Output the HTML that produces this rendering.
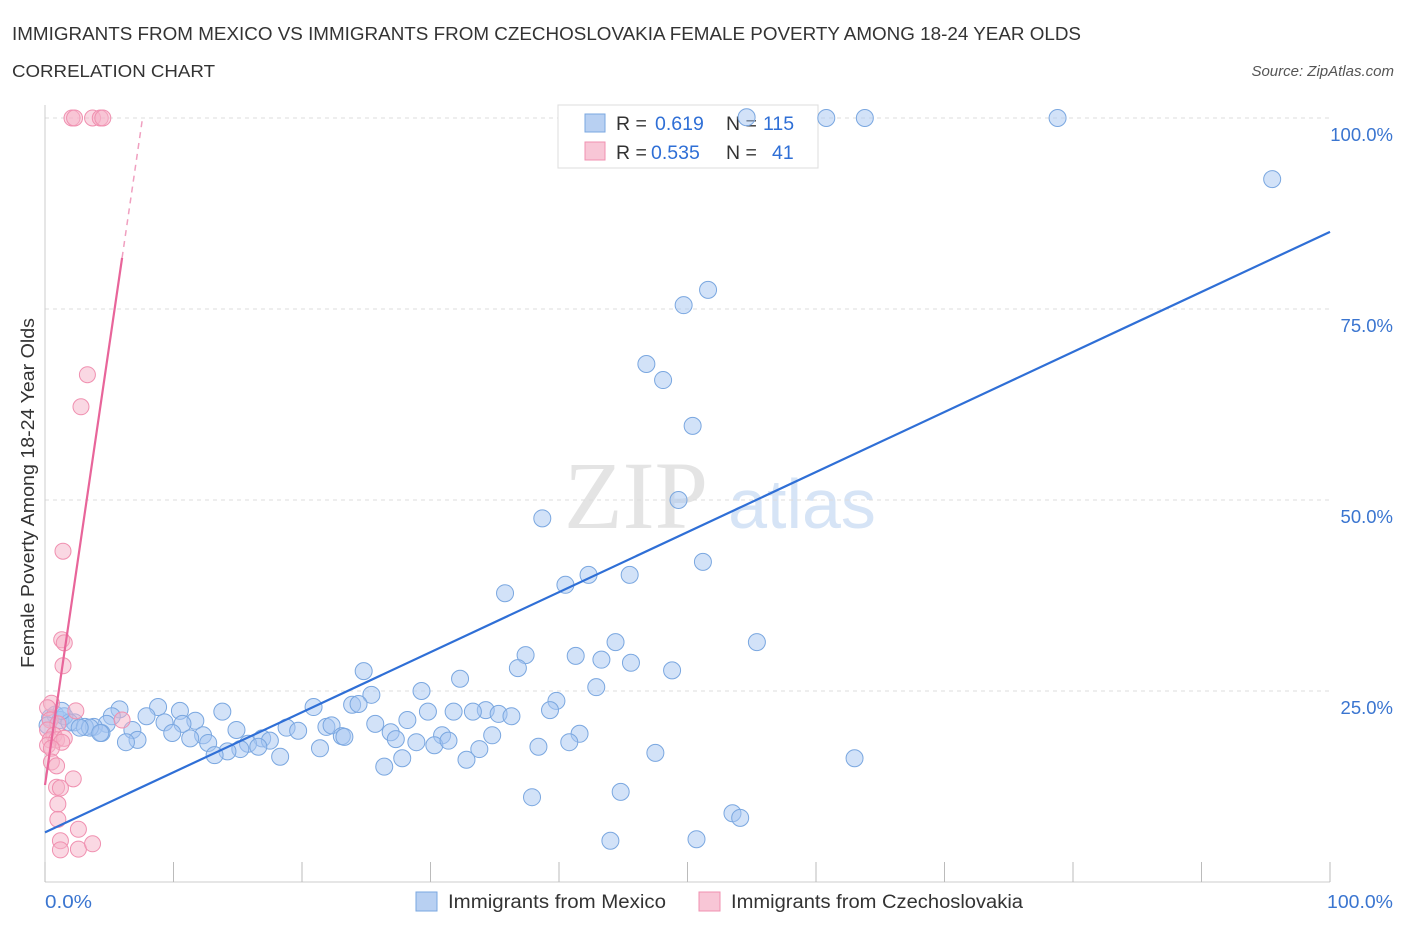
<!DOCTYPE html>
<html><head><meta charset="utf-8"><style>
body{margin:0;background:#fff;font-family:"Liberation Sans",sans-serif;}
svg{display:block}
</style></head><body>
<svg id="chart" width="1406" height="930" xmlns="http://www.w3.org/2000/svg">
<text x="12" y="40" font-size="18" fill="#333" textLength="1069" lengthAdjust="spacingAndGlyphs">IMMIGRANTS FROM MEXICO VS IMMIGRANTS FROM CZECHOSLOVAKIA FEMALE POVERTY AMONG 18-24 YEAR OLDS</text>
<text x="12" y="77" font-size="17.5" fill="#333" textLength="203" lengthAdjust="spacingAndGlyphs">CORRELATION CHART</text>
<text x="1394" y="76" font-size="15" fill="#555" font-style="italic" text-anchor="end">Source: ZipAtlas.com</text>
<text transform="translate(34,493) rotate(-90)" font-size="18" fill="#333" text-anchor="middle" textLength="350" lengthAdjust="spacingAndGlyphs">Female Poverty Among 18-24 Year Olds</text>
<g>
<text x="636" y="528" font-size="96" font-family="'Liberation Serif',serif" fill="#e4e4e4" text-anchor="middle">ZIP</text>
<text x="802" y="528" font-size="70" fill="#d6e4f6" text-anchor="middle">atlas</text>
</g>
<g id="grid"></g>
<g>
<rect x="558" y="105" width="260" height="63" fill="#fff" stroke="#ddd"/>
<rect x="585" y="114" width="20" height="18" fill="#b8d0f2" stroke="#7aa7e0"/>
<text x="616" y="130" font-size="19.5" fill="#333">R =</text><text x="655" y="130" font-size="19.5" fill="#2f6fd6">0.619</text>
<text x="726" y="130" font-size="19.5" fill="#333">N =</text><text x="763" y="130" font-size="19.5" fill="#2f6fd6">115</text>
<rect x="585" y="142" width="20" height="18" fill="#f8c6d6" stroke="#f090b0"/>
<text x="616" y="159" font-size="19.5" fill="#333">R =</text><text x="651" y="159" font-size="19.5" fill="#2f6fd6">0.535</text>
<text x="726" y="159" font-size="19.5" fill="#333">N =</text><text x="772" y="159" font-size="19.5" fill="#2f6fd6">41</text>
</g>
<g id="marks"></g>
<text x="45" y="908" font-size="18" fill="#3a75d0" textLength="47" lengthAdjust="spacingAndGlyphs">0.0%</text>
<text x="1327" y="908" font-size="18" fill="#3a75d0" textLength="66" lengthAdjust="spacingAndGlyphs">100.0%</text>
<g>
<rect x="416" y="892" width="21" height="19" fill="#b8d0f2" stroke="#7aa7e0"/>
<text x="448" y="908" font-size="19" fill="#333" textLength="218" lengthAdjust="spacingAndGlyphs">Immigrants from Mexico</text>
<rect x="699" y="892" width="21" height="19" fill="#f8c6d6" stroke="#f090b0"/>
<text x="731" y="908" font-size="19" fill="#333" textLength="292" lengthAdjust="spacingAndGlyphs">Immigrants from Czechoslovakia</text>
</g>
</svg>
<script>
const yTicks=[25,50,75,100];
const yTickLabels=["25.0%","50.0%","75.0%","100.0%"];
const blueX=[54.6,60.8,63.8,78.8,95.5,51.6,49.7,46.8,48.1,50.4,49.3,38.7,51.2,42.3,45.5,40.5,35.8,55.4,44.4,37.4,41.3,43.3,45.6,36.8,48.8,24.8,32.3,42.9,29.3,25.4,39.8,23.9,20.9,24.4,39.3,8.8,5.8,13.8,10.5,29.8,31.8,34.3,33.3,35.3,36.3,7.9,5.2,11.7,28.2,25.7,9.3,10.7,4.8,2.3,3.8,6.8,14.9,18.8,19.7,21.9,22.3,26.9,9.9,12.3,16.9,23.1,23.3,30.9,34.8,41.6,4.4,7.2,6.3,11.3,12.7,15.8,17.5,16.6,27.3,28.9,30.3,31.4,40.8,21.4,15.2,14.2,38.4,33.8,13.2,18.3,27.8,47.5,32.8,63,26.4,37.9,44.8,53.5,54.1,44,50.7,0.4,0.8,1.2,1.5,1.9,0.2,3.1,3.5,4.3,2.7,1.3];
const blueY=[100.1,100,100,100,92,77.5,75.5,67.8,65.7,59.7,50,47.6,41.9,40.2,40.2,38.9,37.8,31.4,31.4,29.7,29.6,29.1,28.7,28,27.7,27.6,26.6,25.5,25,24.5,23.7,23.2,22.9,23.3,22.5,22.9,22.6,22.3,22.4,22.3,22.3,22.5,22.3,22,21.7,21.7,21.7,21.1,21.2,20.7,20.9,20.7,20.7,20.9,20.3,19.9,19.9,20.2,19.8,20.3,20.5,19.6,19.5,19.2,18.8,19.1,19,19.2,19.2,19.4,19.5,18.6,18.3,18.8,18.2,18.1,18.5,17.7,18.7,18.3,17.9,18.5,18.3,17.5,17.4,17.1,17.7,17.4,16.6,16.4,16.2,16.9,16,16.2,15.1,11.1,11.8,9,8.4,5.4,5.6,21.5,21.9,21.2,21.7,20.9,20.5,20.3,20.2,19.5,20.2,22.4];
const pinkX=[2.1,2.3,3.7,4.3,4.5,3.3,2.8,1.4,1.3,1.5,1.4,0.5,0.2,2.4,6,0.4,1,0.2,0.7,0.4,0.9,1.5,1.3,0.2,0.5,0.5,0.9,2.2,0.9,1.2,1,1,2.6,1.2,1.2,2.6,3.7];
const pinkY=[100,100,100,100,100,66.4,62.2,43.3,31.7,31.3,28.3,23.4,22.8,22.4,21.2,21.2,20.7,19.9,19.2,18.6,18.6,18.8,18.3,17.9,17.5,15.7,15.2,13.5,12.4,12.3,10.2,8.2,6.9,5.4,4.2,4.3,5];
const blueFit=[6.5,85.1];
const pinkFit=[12.7,81.7,6.0];
const NS="http://www.w3.org/2000/svg";
const X=v=>45+v*12.85, Y=v=>882-v*7.64;
function mk(t,a,p){const e=document.createElementNS(NS,t);for(const k in a)e.setAttribute(k,a[k]);p.appendChild(e);return e;}
const g=document.getElementById('grid'), m=document.getElementById('marks');
yTicks.forEach((t,i)=>{
 const l=mk('line',{x1:45,x2:1330,y1:Y(t),y2:Y(t),stroke:'#ddd','stroke-dasharray':'4,4'},g);
 
 
 const tx=mk('text',{x:1393,y:Y(t)+23,'font-size':18.5,fill:'#3a75d0','text-anchor':'end'},g);
 tx.textContent=yTickLabels[i];
 
 
});
const ax=mk('line',{x1:45,x2:1330,y1:882,y2:882,stroke:'#ccc'},g);


const ay=mk('line',{x1:45,x2:45,y1:105,y2:882,stroke:'#ccc'},g);


for(let i=0;i<=10;i++){
 const t=mk('line',{x1:X(i*10),x2:X(i*10),y1:862,y2:882,stroke:'#bbb'},g);
 
 
}
blueX.forEach((x,i)=>{
 const c=mk('circle',{cx:X(x),cy:Y(blueY[i]),r:8.5,fill:'rgba(165,198,242,0.5)',stroke:'#7aa7e0','stroke-width':1},m);
 
 
});
pinkX.forEach((x,i)=>{
 const c=mk('circle',{cx:X(x),cy:Y(pinkY[i]),r:8,fill:'rgba(246,178,200,0.5)',stroke:'#f090b0','stroke-width':1},m);
 
 
});
const bl=mk('line',{x1:X(0),y1:Y(blueFit[0]),x2:X(100),y2:Y(blueFit[1]),stroke:'#2f6fd6','stroke-width':2.2},m);


const slope=(pinkFit[1]-pinkFit[0])/pinkFit[2];
const pl=mk('line',{x1:X(0),y1:Y(pinkFit[0]),x2:X(pinkFit[2]),y2:Y(pinkFit[1]),stroke:'#e8659a','stroke-width':2.2},m);


const xe=(100-pinkFit[0])/slope;
const pd=mk('line',{x1:X(pinkFit[2]),y1:Y(pinkFit[1]),x2:X(xe),y2:Y(100),stroke:'#f0a0c0','stroke-width':1.5,'stroke-dasharray':'6,5'},m);


</script>
</body></html>
